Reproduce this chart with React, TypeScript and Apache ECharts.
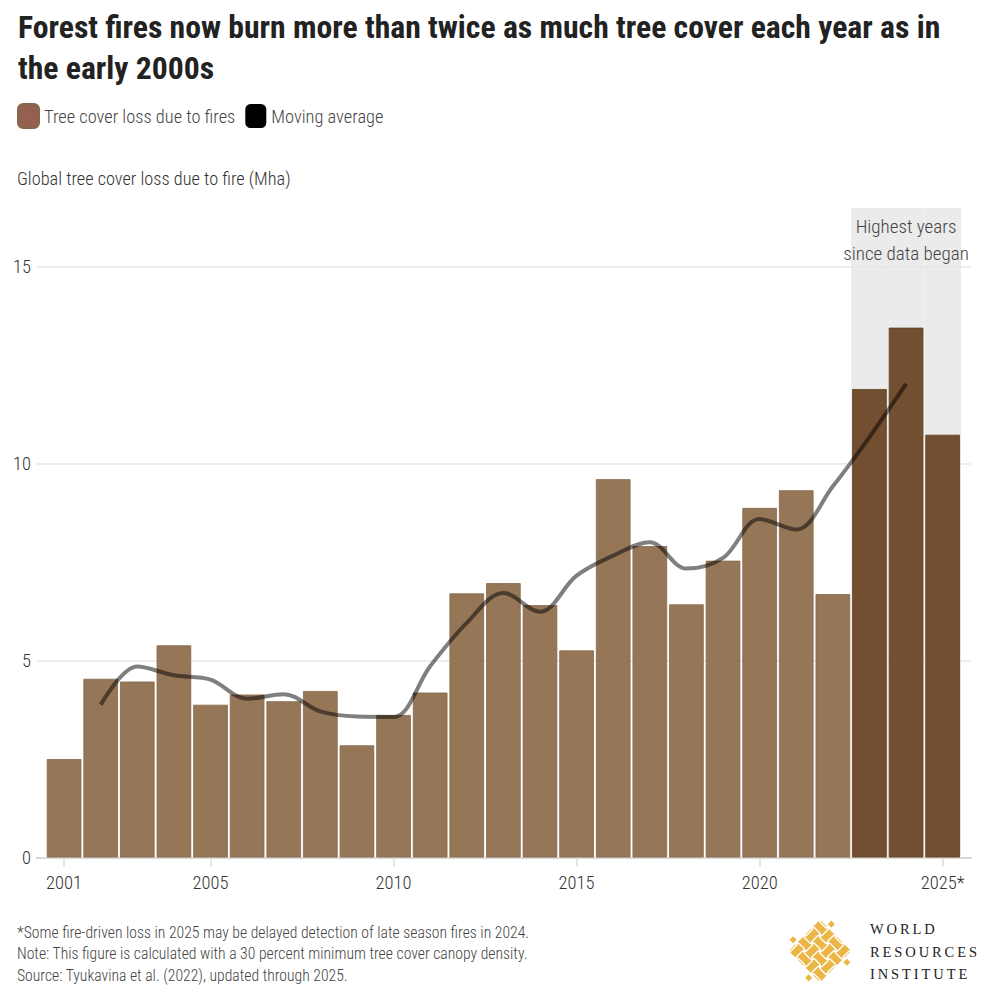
import React, { useEffect, useRef } from 'react';
import * as echarts from 'echarts';

const FONT = '"Roboto Condensed", "Liberation Sans Narrow", "DejaVu Sans Condensed", Roboto, sans-serif';
const LIGHT = 300;

const years = [2001, 2002, 2003, 2004, 2005, 2006, 2007, 2008, 2009, 2010, 2011, 2012, 2013, 2014, 2015, 2016, 2017, 2018, 2019, 2020, 2021, 2022, 2023, 2024, 2025];
const fireLoss = [2.5, 4.54, 4.47, 5.39, 3.88, 4.14, 3.97, 4.23, 2.85, 3.62, 4.19, 6.71, 6.97, 6.41, 5.26, 9.61, 7.91, 6.43, 7.54, 8.88, 9.33, 6.69, 11.9, 13.46, 10.74];
const maYears = [2002, 2003, 2004, 2005, 2006, 2007, 2008, 2009, 2010, 2011, 2012, 2013, 2014, 2015, 2016, 2017, 2018, 2019, 2020, 2021, 2022, 2023, 2024];
const movingAvg = [3.88, 4.85, 4.63, 4.52, 4.03, 4.15, 3.71, 3.58, 3.57, 4.86, 5.96, 6.72, 6.24, 7.16, 7.67, 8.01, 7.34, 7.61, 8.6, 8.33, 9.43, 10.68, 12.03];
const highlightYears = [2023, 2024, 2025];
const xTickYears = [2001, 2005, 2010, 2015, 2020, 2025];
const shadeTop = 16.5;

const titleText = 'Forest fires now burn more than twice as much tree cover each year as in\nthe early 2000s';
const legendNames = ['Tree cover loss due to fires', 'Moving average'];
const yAxisTitle = 'Global tree cover loss due to fire (Mha)';
const annotation = 'Highest years\nsince data began';
const footerLines = [
  '*Some fire-driven loss in 2025 may be delayed detection of late season fires in 2024.',
  'Note: This figure is calculated with a 30 percent minimum tree cover canopy density.',
  'Source: Tyukavina et al. (2022), updated through 2025.',
];
const logoWords = ['WORLD', 'RESOURCES', 'INSTITUTE'];

const BAR = '#957758';
const BAR_HI = '#714f30';
const GOLD = '#ebb645';

function buildLogo() {
  const children: any[] = [];
  const half = 22;
  const t = 8;
  const centers = [-16.5, -5.5, 5.5, 16.5];
  centers.forEach((c) => {
    children.push({ type: 'rect', shape: { x: -half, y: c - t / 2, width: half * 2, height: t }, style: { fill: GOLD } });
    children.push({ type: 'rect', shape: { x: c - t / 2, y: -half, width: t, height: half * 2 }, style: { fill: GOLD } });
  });
  centers.forEach((cy, i) => {
    centers.forEach((cx, j) => {
      const hTop = (i + j) % 2 === 0;
      const w = t / 2;
      const s = { stroke: '#fff', lineWidth: 1.4 };
      if (hTop) {
        children.push({ type: 'line', shape: { x1: cx - w - 0.8, y1: cy - w, x2: cx + w + 0.8, y2: cy - w }, style: s });
        children.push({ type: 'line', shape: { x1: cx - w - 0.8, y1: cy + w, x2: cx + w + 0.8, y2: cy + w }, style: s });
      } else {
        children.push({ type: 'line', shape: { x1: cx - w, y1: cy - w - 0.8, x2: cx - w, y2: cy + w + 0.8 }, style: s });
        children.push({ type: 'line', shape: { x1: cx + w, y1: cy - w - 0.8, x2: cx + w, y2: cy + w + 0.8 }, style: s });
      }
    });
  });
  [[-11, -27], [27, -11], [11, 27], [-27, 11]].forEach(([x, y]) => {
    children.push({ type: 'rect', shape: { x: x - 2.5, y: y - 2.5, width: 5, height: 5 }, style: { fill: GOLD } });
  });
  return { type: 'group', x: 820, y: 951, rotation: Math.PI / 4, children };
}

export default function App() {
  const ref = useRef<HTMLDivElement>(null);
  useEffect(() => {
    document.body.style.margin = '0';
    const chart = echarts.init(ref.current!, null, { renderer: 'svg' });
    const xMin = 2000.26;
    const xMax = 2025.76;
    const option: any = {
      animation: false,
      backgroundColor: '#fff',
      textStyle: { fontFamily: FONT },
      title: {
        text: titleText,
        left: 13,
        top: 1.5,
        textStyle: { fontSize: 31.7, fontWeight: 'bold', color: '#222', lineHeight: 41, fontFamily: FONT },
      },
      legend: {
        left: 17,
        top: 103,
        padding: 0,
        itemWidth: 21,
        itemHeight: 24,
        itemGap: 10,
        icon: 'roundRect',
        selectedMode: false,
        textStyle: { fontSize: 18.4, color: '#444', fontFamily: FONT, fontWeight: LIGHT },
        data: [
          { name: legendNames[0], itemStyle: { color: '#94604f' } },
          { name: legendNames[1], itemStyle: { color: '#000', borderWidth: 0 }, lineStyle: { width: 0 } },
        ],
      },
      grid: { left: 37, right: 29.5, top: 208, bottom: 144.5, containLabel: false },
      xAxis: [
        {
          type: 'value',
          min: xMin,
          max: xMax,
          axisLine: { show: true, lineStyle: { color: '#b3b3b3', width: 2 } },
          axisTick: { show: true, customValues: xTickYears, length: 9, lineStyle: { color: '#dcdcdc', width: 1.5 } },
          axisLabel: {
            customValues: xTickYears,
            formatter: (v: number) => (v === 2025 ? '2025*' : String(v)),
            fontSize: 18.5,
            color: '#333',
            margin: 16,
            fontFamily: FONT,
            fontWeight: LIGHT,
          },
          splitLine: { show: false },
        },
        { type: 'value', min: xMin, max: xMax, show: false },
      ],
      yAxis: {
        type: 'value',
        min: 0,
        max: shadeTop,
        interval: 5,
        z: 1,
        axisLine: { show: false },
        axisTick: { show: false },
        axisLabel: {
          formatter: (v: number) => (v % 5 === 0 ? String(v) : ''),
          fontSize: 18.5,
          color: '#333',
          margin: 6,
          fontFamily: FONT,
          fontWeight: LIGHT,
        },
        splitLine: { show: true, showMaxLine: false, lineStyle: { color: '#e6e6e6', width: 1.5 } },
      },
      series: [
        {
          name: 'shade',
          type: 'bar',
          xAxisIndex: 1,
          z: 0,
          barWidth: '100%',
          silent: true,
          itemStyle: { color: '#ebebeb' },
          data: highlightYears.map((y) => ({
            value: [y, shadeTop],
            label:
              y === 2024
                ? {
                    show: true,
                    position: 'insideTop',
                    distance: 5,
                    formatter: annotation,
                    fontSize: 19,
                    lineHeight: 27,
                    color: '#444',
                    fontFamily: FONT,
                    fontWeight: LIGHT,
                    align: 'center',
                  }
                : { show: false },
          })),
        },
        {
          name: legendNames[0],
          type: 'bar',
          z: 2,
          barWidth: '94.5%',
          itemStyle: { color: BAR, borderColor: '#85674a', borderWidth: 0.8 },
          data: years.map((y, i) =>
            highlightYears.includes(y)
              ? { value: [y, fireLoss[i]], itemStyle: { color: BAR_HI, borderColor: '#60401f' } }
              : { value: [y, fireLoss[i]] }
          ),
        },
        {
          name: legendNames[1],
          type: 'line',
          z: 3,
          smooth: 0.35,
          showSymbol: false,
          symbol: 'none',
          itemStyle: { color: 'rgba(0,0,0,0.5)' },
          lineStyle: { color: 'rgba(0,0,0,0.5)', width: 4 },
          data: maYears.map((y, i) => [y, movingAvg[i]]),
        },
      ],
      graphic: [
        {
          type: 'text',
          style: { x: 17, y: 178, text: yAxisTitle, fontSize: 18.3, fill: '#333', fontFamily: FONT, fontWeight: LIGHT, verticalAlign: 'middle', align: 'left' },
        },
        ...footerLines.map((t, i) => ({
          type: 'text',
          style: { x: 17, y: 932 + i * 21.5, text: t, fontSize: 15.7, fill: '#444', fontFamily: FONT, fontWeight: LIGHT, verticalAlign: 'middle', align: 'left' },
        })),
        ...logoWords.map((w, i) => ({
          type: 'text',
          style: {
            x: 870,
            y: 929 + i * 22.7,
            text: w.split('').join('\u2009'),
            fontSize: 14.5,
            fill: '#222',
            fontFamily: '"Liberation Serif", "DejaVu Serif", serif',
            verticalAlign: 'middle',
            align: 'left',
          },
        })),
        buildLogo(),
      ],
    };
    chart.setOption(option);
    return () => chart.dispose();
  }, []);
  return <div ref={ref} style={{ width: 1000, height: 1002 }} />;
}
